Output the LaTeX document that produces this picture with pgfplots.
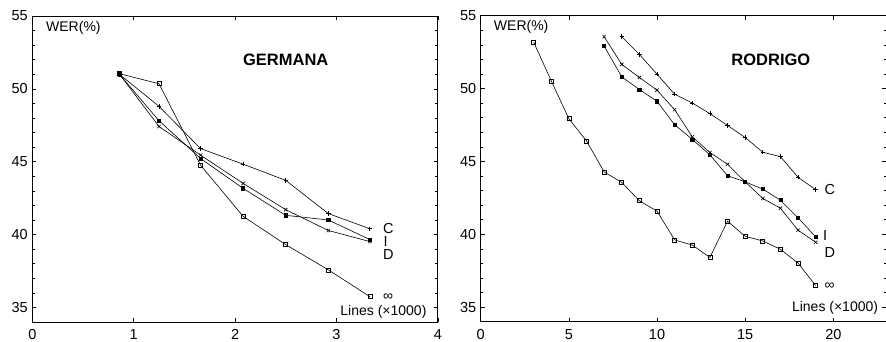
\documentclass[border=0pt]{standalone}
\usepackage{pgfplots}
\pgfplotsset{compat=1.18}
\usepackage{fontspec}
\setmainfont{Liberation Sans}
\tikzset{
  sline/.style={black, line width=0.6pt},
  lbl/.style={font=\fontsize{14}{14}\selectfont, inner sep=0pt},
  cid/.style={font=\fontsize{14.5}{14.5}\selectfont, inner sep=0pt},
}
\begin{document}
\begin{tikzpicture}[x=1pt,y=1pt]
\pgfplotsset{
  myax/.style={
    anchor=south west, scale only axis,
    width=405.5pt, height=306pt,
    ymin=34, ymax=55,
    ytick={35,40,45,50,55},
    minor y tick num=4,
    tick align=inside,
    major tick length=4pt, minor tick length=2.5pt,
    axis line style={line width=0.9pt},
    every tick/.style={black, line width=0.5pt},
    tick label style={font=\fontsize{14.5}{14.5}\selectfont},
    /pgf/number format/assume math mode=true,
    yticklabel style={xshift=-1pt},
    xticklabel style={yshift=-4pt},
    clip=false,
  },
}
\useasboundingbox (0,0) rectangle (886,342);
\clip (0,0) rectangle (886,342);
% ---------- GERMANA ----------
\begin{axis}[myax, at={(32.3pt,20pt)}, xmin=0, xmax=4, xtick={0,1,2,3,4}]
\addplot[sline, mark=square, mark size=2pt, mark options={solid,line width=0.6pt}] coordinates {
(0.86,51.04) (1.25,50.35) (1.66,44.76) (2.08,41.25) (2.50,39.31) (2.92,37.58) (3.33,35.74)};
\addplot[sline, mark=+, mark size=2.2pt, mark options={line width=0.8pt}] coordinates {
(0.86,51.0) (1.25,48.8) (1.66,45.9) (2.08,44.83) (2.50,43.72) (2.92,41.44) (3.33,40.4)};
\addplot[sline, mark=square*, mark size=1.6pt] coordinates {
(0.86,51.0) (1.25,47.81) (1.66,45.22) (2.08,43.17) (2.50,41.32) (2.92,41.0) (3.33,39.66)};
\addplot[sline, mark=x, mark size=2.4pt, mark options={line width=0.6pt}] coordinates {
(0.86,51.0) (1.25,47.42) (1.66,45.45) (2.08,43.51) (2.50,41.71) (2.92,40.28) (3.33,39.52)};
\node[lbl, anchor=west] at (axis cs:0.135,54.2) {WER(\%)};
\node[lbl, font=\fontsize{16.5}{16.5}\selectfont\bfseries] at (axis cs:2.5,52.0) {GERMANA};
\node[lbl, anchor=east] at (axis cs:3.89,34.70) {Lines (×1000)};
\node[cid, anchor=west] at (axis cs:3.458,40.45) {C};
\node[cid] at (axis cs:3.485,39.5) {I};
\node[cid, anchor=west] at (axis cs:3.458,38.63) {D};
\node[lbl, anchor=west] at (axis cs:3.458,35.69) {∞};
\end{axis}
% ---------- RODRIGO ----------
\begin{axis}[myax, at={(480.7pt,20.3pt)}, xmin=0, xmax=23, xtick={0,5,10,15,20}]
\addplot[sline, mark=square, mark size=2pt, mark options={solid,line width=0.6pt}] coordinates {
(3,53.2) (4,50.53) (5,47.93) (6,46.41) (7,44.28) (8,43.56) (9,42.3) (10,41.59) (11,39.61) (12,39.26) (13,38.41) (14,40.9) (15,39.86) (16,39.54) (17,38.97) (18,38.02) (19,36.48)};
\addplot[sline, mark=+, mark size=2.2pt, mark options={line width=0.8pt}] coordinates {
(8,53.56) (9,52.34) (10,50.99) (11,49.61) (12,49.01) (13,48.28) (14,47.47) (15,46.64) (16,45.63) (17,45.33) (18,43.91) (19,43.06)};
\addplot[sline, mark=x, mark size=2.4pt, mark options={line width=0.6pt}] coordinates {
(7,53.56) (8,51.66) (9,50.76) (10,49.89) (11,48.55) (12,46.69) (13,45.61) (14,44.8) (15,43.6) (16,42.46) (17,41.79) (18,40.28) (19,39.45)};
\addplot[sline, mark=square*, mark size=1.6pt] coordinates {
(7,52.92) (8,50.8) (9,49.93) (10,49.13) (11,47.52) (12,46.51) (13,45.45) (14,44.02) (15,43.6) (16,43.1) (17,42.34) (18,41.13) (19,39.82)};
\node[lbl, anchor=west] at (axis cs:0.74,54.25) {WER(\%)};
\node[lbl, font=\fontsize{16.5}{16.5}\selectfont\bfseries] at (axis cs:16.46,52.0) {RODRIGO};
\node[lbl, anchor=east] at (axis cs:22.55,34.94) {Lines (×1000)};
\node[cid, anchor=west] at (axis cs:19.49,43.06) {C};
\node[cid] at (axis cs:19.53,39.93) {I};
\node[cid, anchor=west] at (axis cs:19.49,38.78) {D};
\node[lbl, anchor=west] at (axis cs:19.49,36.44) {∞};
\end{axis}
\end{tikzpicture}
\end{document}
